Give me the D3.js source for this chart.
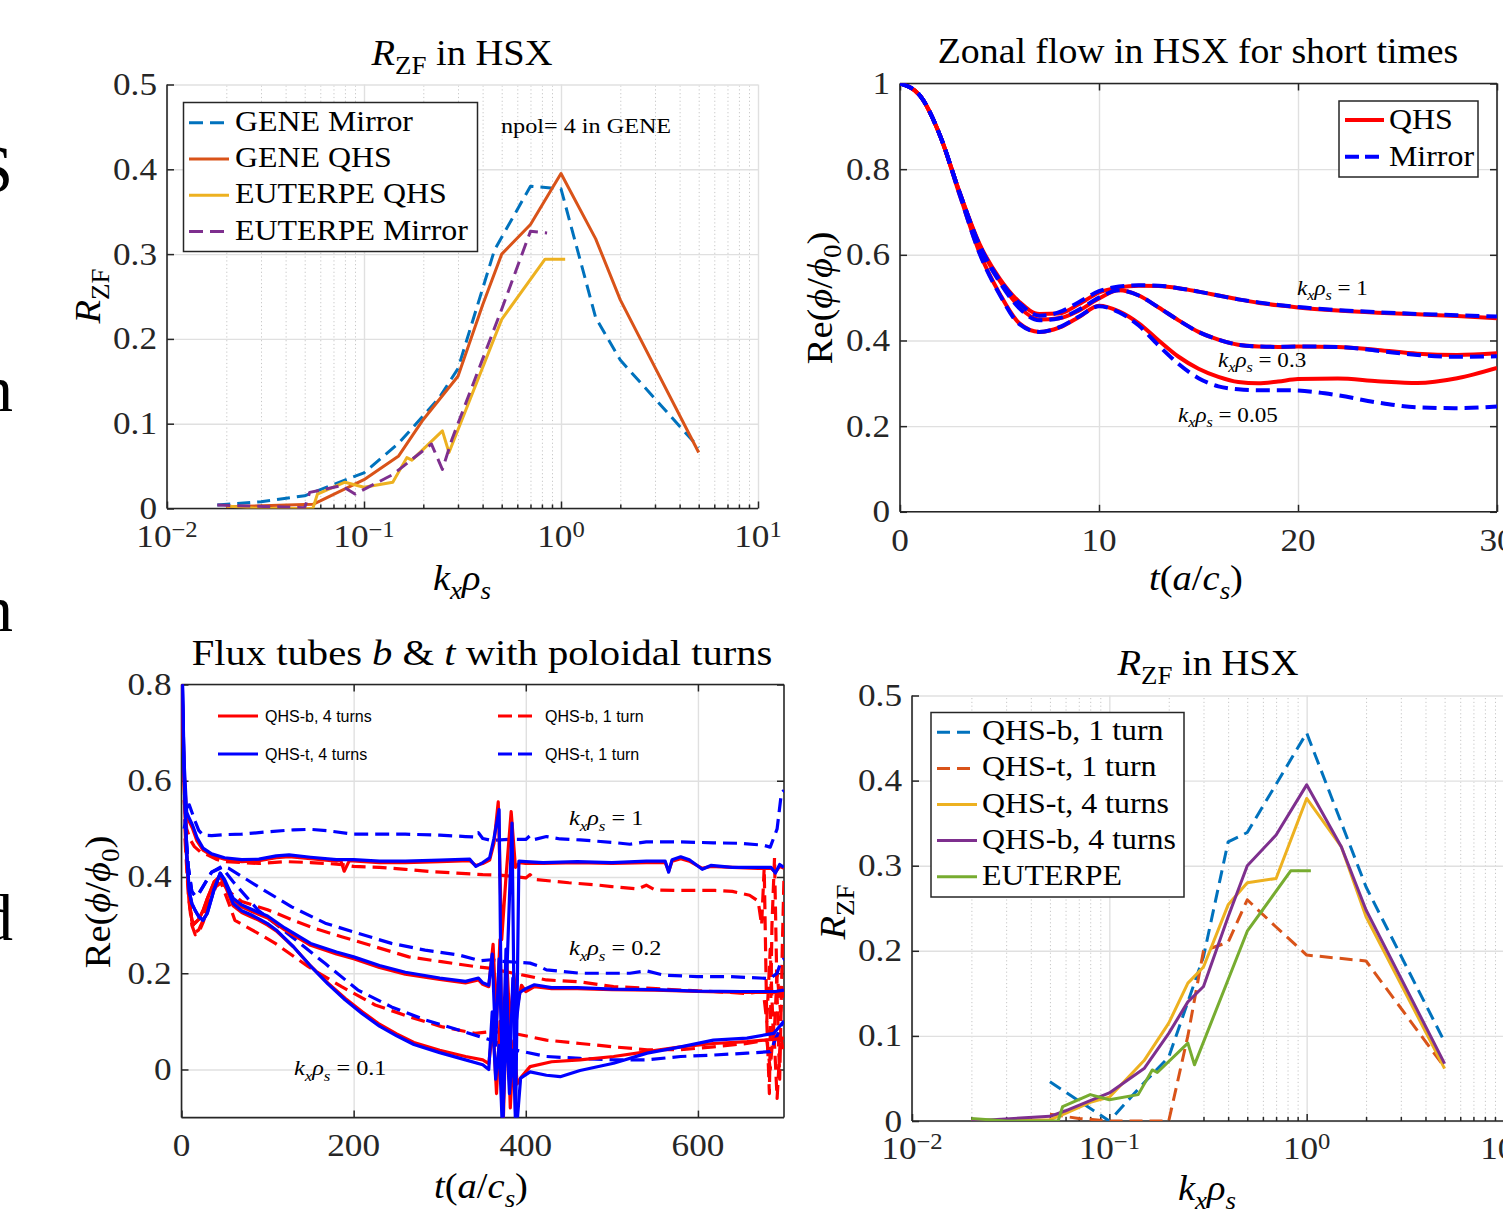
<!DOCTYPE html>
<html><head><meta charset="utf-8">
<script src="https://cdn.jsdelivr.net/npm/d3@7"></script>
<style>body{margin:0;background:#fff}svg{display:block}</style>
</head><body>
<script>
// ================= DATA =================
// Panel 1: R_ZF in HSX (GENE / EUTERPE)
const p1_geneMirror_k = [0.018, 0.03, 0.05, 0.077, 0.1, 0.15, 0.24, 0.3, 0.46, 0.7, 1, 1.5, 2, 5];
const p1_geneMirror_r = [0.004, 0.008, 0.015, 0.032, 0.042, 0.077, 0.13, 0.165, 0.305, 0.38, 0.377, 0.225, 0.175, 0.072];
const p1_geneQhs_k = [0.02, 0.055, 0.06, 0.1, 0.15, 0.2, 0.3, 0.4, 0.5, 0.7, 1, 1.5, 2, 5];
const p1_geneQhs_r = [0.002, 0.005, 0.009, 0.034, 0.062, 0.105, 0.156, 0.24, 0.30, 0.335, 0.395, 0.318, 0.246, 0.066];
const p1_euterpeQhs_k = [0.02, 0.03, 0.055, 0.058, 0.08, 0.1, 0.14, 0.165, 0.175, 0.25, 0.27, 0.5, 0.83, 1.05];
const p1_euterpeQhs_r = [0.003, 0.0, 0.0, 0.017, 0.031, 0.025, 0.031, 0.060, 0.057, 0.0915, 0.066, 0.223, 0.294, 0.294];
const p1_euterpeMirror_k = [0.018, 0.05, 0.053, 0.077, 0.09, 0.14, 0.22, 0.25, 0.28, 0.5, 0.7, 0.85];
const p1_euterpeMirror_r = [0.004, 0.001, 0.019, 0.027, 0.017, 0.040, 0.076, 0.046, 0.082, 0.235, 0.327, 0.325];

// Panel 2: Zonal flow in HSX for short times
const p2_t = [0,1,2,3,4,5,6,7,8,9,10,11,12,13,14,15,16,17,18,19,20,22,24,26,28,30];
const p2_qhs_k1   = [1.0,0.972,0.88,0.745,0.625,0.545,0.49,0.462,0.463,0.485,0.512,0.524,0.528,0.527,0.522,0.514,0.505,0.496,0.488,0.482,0.477,0.47,0.465,0.461,0.457,0.452];
const p2_mir_k1   = [1.0,0.972,0.88,0.745,0.623,0.542,0.487,0.458,0.466,0.49,0.515,0.526,0.529,0.528,0.522,0.514,0.505,0.496,0.489,0.483,0.478,0.471,0.466,0.462,0.459,0.456];
const p2_qhs_k03  = [1.0,0.972,0.88,0.745,0.622,0.54,0.478,0.449,0.452,0.47,0.498,0.517,0.505,0.477,0.447,0.42,0.402,0.39,0.386,0.385,0.386,0.385,0.378,0.369,0.366,0.37];
const p2_mir_k03  = [1.0,0.972,0.88,0.745,0.62,0.537,0.475,0.447,0.452,0.472,0.5,0.517,0.505,0.477,0.447,0.42,0.402,0.39,0.386,0.385,0.386,0.385,0.376,0.366,0.362,0.363];
const p2_qhs_k005 = [1.0,0.972,0.88,0.74,0.605,0.51,0.44,0.42,0.43,0.455,0.481,0.468,0.44,0.40,0.362,0.334,0.315,0.303,0.3,0.304,0.31,0.311,0.305,0.301,0.312,0.336];
const p2_mir_k005 = [1.0,0.972,0.88,0.74,0.603,0.508,0.438,0.42,0.431,0.456,0.48,0.466,0.435,0.388,0.345,0.312,0.293,0.286,0.284,0.284,0.283,0.272,0.255,0.244,0.242,0.246];

// Panel 3: Flux tubes b & t with poloidal turns
const p3_b4_k1_t = [0,3,6,9,13,18,25,35,50,70,90,110,125,150,180,185,189,195,230,260,300,335,342,350,358,363,368,372,377,383,388,393,400,420,460,500,540,562,566,570,580,590,605,615,640,670,685,690,695,700];
const p3_b4_k1_v = [0.85,0.62,0.525,0.515,0.50,0.475,0.456,0.445,0.437,0.432,0.434,0.44,0.442,0.438,0.433,0.435,0.412,0.434,0.43,0.43,0.432,0.434,0.424,0.428,0.435,0.47,0.556,0.27,0.40,0.536,0.42,0.43,0.428,0.428,0.43,0.428,0.43,0.43,0.412,0.433,0.438,0.433,0.418,0.422,0.42,0.418,0.418,0.41,0.422,0.418];
const p3_t4_k1_t = [0,3,6,9,13,18,25,35,50,70,90,110,125,150,180,200,230,260,300,335,342,350,358,363,369,373,378,384,388,392,400,420,460,500,540,562,566,570,580,590,605,615,640,670,685,690,695,700];
const p3_t4_k1_v = [0.9,0.64,0.535,0.522,0.507,0.482,0.46,0.448,0.44,0.436,0.437,0.444,0.446,0.441,0.436,0.436,0.433,0.433,0.435,0.437,0.422,0.43,0.44,0.48,0.54,-0.13,0.2,0.512,-0.13,0.433,0.432,0.43,0.432,0.43,0.433,0.433,0.41,0.436,0.442,0.436,0.416,0.424,0.42,0.42,0.42,0.408,0.426,0.42];
const p3_b1_k1_t = [3,6,10,15,22,30,40,50,70,90,120,150,170,190,200,230,260,290,320,350,370,390,400,405,410,450,480,500,530,540,550,580,620,640,660,670,674,677,680,683,686,689,692,695,698,700];
const p3_b1_k1_v = [0.56,0.5,0.478,0.463,0.452,0.446,0.437,0.432,0.43,0.428,0.432,0.43,0.428,0.425,0.422,0.42,0.416,0.411,0.408,0.405,0.404,0.4,0.398,0.405,0.395,0.388,0.384,0.38,0.375,0.383,0.373,0.372,0.372,0.37,0.362,0.35,0.3,0.42,0.1,-0.05,0.3,0.44,0.15,-0.02,0.25,0.4];
const p3_t1_k1_t = [3,6,9,12,16,20,25,35,50,70,100,130,150,170,200,230,260,300,330,341,345,350,360,380,400,405,410,424,440,463,500,521,540,580,618,650,676,684,692,697,700];
const p3_t1_k1_v = [0.5,0.53,0.55,0.535,0.515,0.497,0.487,0.486,0.488,0.489,0.494,0.498,0.499,0.496,0.489,0.489,0.489,0.487,0.484,0.483,0.492,0.48,0.476,0.478,0.478,0.486,0.478,0.484,0.479,0.477,0.472,0.468,0.473,0.473,0.471,0.47,0.466,0.462,0.5,0.575,0.58];

const p3_b4_k02_t = [0,3,6,9,12,15,20,25,30,38,45,50,60,70,80,90,100,120,150,180,200,230,260,300,330,345,350,357,362,366,370,374,378,382,386,390,395,400,410,430,460,500,550,600,650,690,700];
const p3_b4_k02_v = [0.85,0.6,0.44,0.35,0.31,0.303,0.312,0.33,0.355,0.39,0.402,0.39,0.352,0.338,0.33,0.322,0.315,0.29,0.258,0.24,0.23,0.212,0.198,0.187,0.18,0.186,0.177,0.172,0.26,0.1,0.27,-0.05,0.22,0.08,0.2,0.13,0.175,0.162,0.172,0.168,0.168,0.166,0.165,0.162,0.16,0.16,0.165];
const p3_t4_k02_t = [0,3,6,9,12,16,20,25,30,38,45,50,60,70,80,90,100,120,150,180,200,230,260,300,330,345,350,357,361,365,369,373,377,381,385,389,393,400,410,430,460,500,550,600,650,690,700];
const p3_t4_k02_v = [0.9,0.62,0.45,0.37,0.345,0.33,0.318,0.31,0.325,0.375,0.408,0.395,0.356,0.342,0.334,0.326,0.319,0.294,0.262,0.244,0.234,0.216,0.202,0.19,0.183,0.19,0.18,0.175,0.24,0.05,0.23,0.0,0.25,-0.02,0.19,0.1,0.16,0.168,0.176,0.17,0.17,0.167,0.166,0.163,0.162,0.162,0.165];
const p3_b1_k02_t = [4,8,12,16,20,25,32,40,46,55,70,100,130,155,186,225,264,302,341,360,366,386,400,424,463,502,541,580,618,657,676,680,684,688,692,696,700];
const p3_b1_k02_v = [0.5,0.38,0.31,0.285,0.29,0.31,0.35,0.385,0.392,0.37,0.349,0.332,0.31,0.293,0.276,0.255,0.234,0.224,0.214,0.21,0.207,0.2,0.195,0.186,0.182,0.172,0.169,0.165,0.162,0.158,0.162,0.1,0.25,0.05,0.2,0.12,0.17];
const p3_t1_k02_t = [4,8,12,16,20,25,35,47,55,89,128,167,205,244,283,322,347,360,370,405,415,424,463,521,540,560,599,637,684,692,697,700];
const p3_t1_k02_v = [0.52,0.42,0.37,0.36,0.365,0.38,0.41,0.422,0.418,0.38,0.338,0.304,0.283,0.262,0.248,0.238,0.226,0.228,0.225,0.221,0.215,0.207,0.2,0.2,0.205,0.196,0.193,0.193,0.189,0.2,0.227,0.23];

const p3_b4_k01_t = [0,3,6,9,12,15,20,25,30,38,45,50,60,70,80,90,100,110,130,150,170,190,210,230,250,270,300,330,350,357,362,366,370,374,378,382,386,390,395,405,430,463,502,541,580,618,657,690,700];
const p3_b4_k01_v = [0.85,0.6,0.44,0.35,0.31,0.303,0.312,0.33,0.355,0.39,0.4,0.385,0.34,0.326,0.318,0.31,0.3,0.288,0.255,0.215,0.18,0.148,0.12,0.094,0.074,0.056,0.04,0.027,0.02,0.012,0.09,-0.05,0.1,-0.1,0.15,-0.08,0.06,-0.03,-0.015,0.006,0.016,0.02,0.027,0.037,0.047,0.054,0.058,0.063,0.065];
const p3_t4_k01_t = [0,3,6,9,12,16,20,25,30,38,45,50,60,70,80,90,100,110,130,150,170,190,210,230,250,270,300,330,350,357,361,365,369,373,377,381,385,389,394,405,424,440,463,502,541,580,618,657,688,700];
const p3_t4_k01_v = [0.9,0.62,0.45,0.37,0.345,0.33,0.318,0.31,0.325,0.375,0.408,0.392,0.345,0.33,0.322,0.313,0.303,0.29,0.255,0.215,0.178,0.145,0.116,0.09,0.07,0.052,0.035,0.02,0.01,0.0,0.12,-0.02,0.05,-0.13,0.1,-0.05,0.04,-0.13,-0.018,-0.005,-0.012,-0.015,-0.002,0.013,0.034,0.047,0.061,0.065,0.075,0.1];
const p3_b1_k01_t = [4,8,12,16,20,25,32,40,46,55,62,89,109,147,186,225,264,302,341,360,386,424,463,502,541,580,618,657,680,684,688,692,696,700];
const p3_b1_k01_v = [0.48,0.36,0.3,0.28,0.285,0.305,0.345,0.38,0.388,0.345,0.31,0.283,0.262,0.214,0.172,0.134,0.11,0.089,0.075,0.079,0.075,0.061,0.054,0.047,0.041,0.041,0.047,0.054,0.061,0.0,0.09,-0.06,0.07,0.03];
const p3_t1_k01_t = [4,8,12,16,20,25,35,47,60,89,128,167,205,244,283,322,347,360,386,424,463,502,541,580,618,657,684,698,700];
const p3_t1_k01_v = [0.52,0.42,0.37,0.36,0.365,0.38,0.41,0.42,0.39,0.331,0.276,0.22,0.165,0.13,0.103,0.082,0.068,0.061,0.041,0.027,0.023,0.02,0.02,0.027,0.03,0.034,0.037,0.096,0.1];

// Panel 4: R_ZF in HSX (flux tubes)
const p4_qhsB1_k = [0.05, 0.1, 0.15, 0.2, 0.25, 0.3, 0.4, 0.5, 1, 2, 5];
const p4_qhsB1_r = [0.046, 0.0, 0.045, 0.075, 0.14, 0.193, 0.328, 0.339, 0.456, 0.275, 0.093];
const p4_qhsT1_k = [0.05, 0.07, 0.1, 0.15, 0.2, 0.25, 0.3, 0.4, 0.5, 0.7, 1, 2, 5];
const p4_qhsT1_r = [0.008, 0.003, 0.0, 0.0, 0.0, 0.1, 0.2, 0.21, 0.26, 0.228, 0.195, 0.188, 0.063];
const p4_4turn_k = [0.02, 0.05, 0.06, 0.08, 0.1, 0.15, 0.2, 0.25, 0.3, 0.4, 0.5, 0.7, 1, 1.5, 2, 5];
const p4_qhsT4_r = [0.0, 0.0015, 0.009, 0.022, 0.028, 0.071, 0.115, 0.162, 0.181, 0.254, 0.28, 0.285, 0.379, 0.322, 0.24, 0.0616];
const p4_qhsB4_r = [0.0, 0.0055, 0.012, 0.024, 0.033, 0.0616, 0.103, 0.14, 0.158, 0.24, 0.30, 0.336, 0.395, 0.322, 0.248, 0.0675];
const p4_euterpe_k = p1_euterpeQhs_k;
const p4_euterpe_r = p1_euterpeQhs_r;

// Ticks
const logTicks = [0.01, 0.1, 1, 10];
const logExps = ['−2', '−1', '0', '1'];
const rzfTicks = [0, 0.1, 0.2, 0.3, 0.4, 0.5];
const rzfLabels = ['0', '0.1', '0.2', '0.3', '0.4', '0.5'];
const p2_xTicks = [0, 10, 20, 30];
const p2_yTicks = [0, 0.2, 0.4, 0.6, 0.8, 1];
const p2_yLabels = ['0', '0.2', '0.4', '0.6', '0.8', '1'];
const p3_xTicks = [0, 200, 400, 600];
const p3_yTicks = [0, 0.2, 0.4, 0.6, 0.8];
const p3_yLabels = ['0', '0.2', '0.4', '0.6', '0.8'];
const logMinor = [];
[0.01, 0.1, 1].forEach(d => { for (let m = 2; m <= 9; m++) logMinor.push(m * d); });

// ================= DRAWING =================
const SERIF = "'Liberation Serif','Times New Roman',serif";
const SANS = "'Liberation Sans',Arial,sans-serif";
const SX = 1.1;
const AX = '#262626', GRID = '#e0e0e0';
const C = {blue:'#0072BD', orange:'#D95319', yellow:'#EDB120', purple:'#7E2F8E', green:'#77AC30', red:'#FF0000', pblue:'#0000FF'};

const svg = d3.select('body').append('svg').attr('width', 1503).attr('height', 1210);
svg.append('rect').attr('width', 1503).attr('height', 1210).attr('fill', '#fff');

function mtext(parent, x, y, parts, o = {}) {
  const size = o.size || 32, sx = o.sx || SX;
  const t = parent.append('text')
    .attr('transform', `translate(${x},${y})${o.rotate ? ` rotate(${o.rotate})` : ''} scale(${sx},1)`)
    .attr('text-anchor', o.anchor || 'start')
    .style('font-family', o.family || SERIF).style('font-size', size + 'px')
    .style('white-space', 'pre').attr('fill', o.fill || '#000');
  let cur = 0;
  parts.forEach(p => {
    if (typeof p === 'string') p = {t: p};
    const sh = p.sub ? size * 0.25 : p.sup ? -size * 0.3 : 0;
    t.append('tspan').attr('dy', sh - cur)
      .style('font-size', ((p.sub || p.sup) ? size * 0.7 : size) + 'px')
      .style('font-style', p.it ? 'italic' : 'normal').text(p.t);
    cur = sh;
  });
  return t;
}
const KR = [{t:'k', it:1}, {t:'x', it:1, sub:1}, {t:'ρ', it:1}, {t:'s', it:1, sub:1}];
const RZF = [{t:'R', it:1}, {t:'ZF', sub:1}];
const REPHI = ['Re(', {t:'ϕ', it:1}, '/', {t:'ϕ', it:1}, {t:'0', sub:1}, ')'];
const TAC = [{t:'t', it:1}, '(', {t:'a', it:1}, '/', {t:'c', it:1}, {t:'s', it:1, sub:1}, ')'];

function styleGrid(s, color, w, dash) {
  s.select('.domain').remove();
  s.selectAll('line').attr('stroke', color).attr('stroke-width', w).attr('stroke-dasharray', dash || null);
}
function styleTicks(s) {
  s.select('.domain').remove();
  s.selectAll('line').attr('stroke', AX).attr('stroke-width', 1.5);
}

function panel(o) {
  const g = svg.append('g');
  const x = (o.log ? d3.scaleLog() : d3.scaleLinear()).domain(o.xd).range([o.L, o.R]);
  const y = d3.scaleLinear().domain(o.yd).range([o.B, o.T]);
  const Wd = o.R - o.L, Hh = o.B - o.T;
  svg.append('defs').append('clipPath').attr('id', 'c' + o.id)
    .append('rect').attr('x', o.L).attr('y', o.T).attr('width', Wd).attr('height', Hh);
  if (o.log) {
    g.append('g').attr('transform', `translate(0,${o.B})`)
      .call(d3.axisBottom(x).tickValues(logMinor).tickSize(-Hh).tickFormat(''))
      .call(s => styleGrid(s, '#c6c6c6', 1, '1.2,2.6'));
  }
  g.append('g').attr('transform', `translate(0,${o.B})`)
    .call(d3.axisBottom(x).tickValues(o.xg).tickSize(-Hh).tickFormat(''))
    .call(s => styleGrid(s, GRID, 1.4));
  g.append('g').attr('transform', `translate(${o.L},0)`)
    .call(d3.axisLeft(y).tickValues(o.yg).tickSize(-Wd).tickFormat(''))
    .call(s => styleGrid(s, GRID, 1.4));
  g.append('g').attr('transform', `translate(${o.L},0)`)
    .call(d3.axisLeft(y).tickValues(o.yt).tickSize(-7).tickFormat('')).call(styleTicks);
  g.append('g').attr('transform', `translate(0,${o.B})`)
    .call(d3.axisBottom(x).tickValues(o.xt).tickSize(-7).tickFormat('')).call(styleTicks);
  if (o.log) {
    g.append('g').attr('transform', `translate(0,${o.B})`)
      .call(d3.axisBottom(x).tickValues(logMinor).tickSize(-4).tickFormat('')).call(styleTicks);
  }
  if (o.box) {
    g.append('g').attr('transform', `translate(${o.R},0)`)
      .call(d3.axisRight(y).tickValues(o.yt).tickSize(-7).tickFormat('')).call(styleTicks);
    g.append('g').attr('transform', `translate(0,${o.T})`)
      .call(d3.axisTop(x).tickValues(o.xt).tickSize(-7).tickFormat('')).call(styleTicks);
  }
  const ax = g.append('g').attr('stroke', AX).attr('stroke-width', 1.6).attr('fill', 'none');
  ax.append('line').attr('x1', o.L).attr('x2', o.L).attr('y1', o.B).attr('y2', o.T);
  ax.append('line').attr('x1', o.L).attr('x2', o.R).attr('y1', o.B).attr('y2', o.B);
  if (o.box) {
    ax.append('line').attr('x1', o.R).attr('x2', o.R).attr('y1', o.B).attr('y2', o.T);
    ax.append('line').attr('x1', o.L).attr('x2', o.R).attr('y1', o.T).attr('y2', o.T);
  }
  o.yt.forEach((v, i) => mtext(g, o.L - 10, y(v) + 10.5, [o.yl[i]], {size: 32, anchor: 'end', fill: AX}));
  o.xt.forEach((v, i) => {
    const parts = o.log ? ['10', {t: logExps[i], sup: 1}] : [String(v)];
    mtext(g, x(v), o.xlY, parts, {size: 32, anchor: 'middle', fill: AX});
  });
  const dataG = svg.append('g').attr('clip-path', `url(#c${o.id})`);
  return {g, dataG, x, y, o};
}

function line(p, xs, ys, color, width, dash, curve) {
  const data = xs.map((v, i) => [v, ys[i]]);
  p.dataG.append('path').datum(data)
    .attr('d', d3.line().x(d => p.x(d[0])).y(d => p.y(d[1])).curve(curve || d3.curveLinear))
    .attr('fill', 'none').attr('stroke', color).attr('stroke-width', width)
    .attr('stroke-dasharray', dash || null).attr('stroke-linejoin', 'round');
}

function legendEntry(g, x1, x2, y, color, width, dash, label, tx, size, family, sx, by) {
  g.append('line').attr('x1', x1).attr('x2', x2).attr('y1', y).attr('y2', y)
    .attr('stroke', color).attr('stroke-width', width).attr('stroke-dasharray', dash || null);
  mtext(g, tx, y + by, [label], {size, family, sx});
}

// ---------- Panel 1 ----------
const P1 = panel({id: 1, L: 167, R: 758, T: 84.5, B: 508.5, log: true, xd: [0.01, 10], yd: [0, 0.5],
  xt: logTicks, xg: logTicks, yt: rzfTicks, yg: rzfTicks, yl: rzfLabels, xlY: 547, box: false});
line(P1, p1_geneMirror_k, p1_geneMirror_r, C.blue, 3, '13,7');
line(P1, p1_geneQhs_k, p1_geneQhs_r, C.orange, 3);
line(P1, p1_euterpeQhs_k, p1_euterpeQhs_r, C.yellow, 3);
line(P1, p1_euterpeMirror_k, p1_euterpeMirror_r, C.purple, 3, '13,7');
mtext(svg, 462, 65, [...RZF, ' in HSX'], {size: 35, anchor: 'middle'});
mtext(svg, 462, 590, KR, {size: 35, anchor: 'middle'});
mtext(svg, 100, 296, RZF, {size: 35, anchor: 'middle', rotate: -90});
mtext(svg, 501, 133, ['npol= 4 in GENE'], {size: 22});
{
  const lg = svg.append('g');
  lg.append('rect').attr('x', 183.5).attr('y', 102.5).attr('width', 294).attr('height', 149)
    .attr('fill', '#fff').attr('stroke', AX).attr('stroke-width', 1.5);
  const ents = [['GENE Mirror', C.blue, '14,7'], ['GENE QHS', C.orange, null], ['EUTERPE QHS', C.yellow, null], ['EUTERPE Mirror', C.purple, '14,7']];
  ents.forEach((e, i) => legendEntry(lg, 189, 229, 122.7 + i * 36.3, e[1], 3, e[2], e[0], 235, 29, SERIF, SX, 8));
}

// ---------- Panel 2 ----------
const P2 = panel({id: 2, L: 900, R: 1497, T: 83.5, B: 511.8, xd: [0, 30], yd: [0, 1],
  xt: p2_xTicks, xg: p2_xTicks, yt: p2_yTicks, yg: p2_yTicks, yl: p2_yLabels, xlY: 551, box: true});
[p2_qhs_k005, p2_qhs_k03, p2_qhs_k1].forEach(v => line(P2, p2_t, v, C.red, 4, null, d3.curveMonotoneX));
[p2_mir_k005, p2_mir_k03, p2_mir_k1].forEach(v => line(P2, p2_t, v, C.pblue, 4, '14,7', d3.curveMonotoneX));
mtext(svg, 1198, 63, ['Zonal flow in HSX for short times'], {size: 35, anchor: 'middle', sx: 1.08});
mtext(svg, 1196, 590, TAC, {size: 35, anchor: 'middle'});
mtext(svg, 832, 298, REPHI, {size: 35, anchor: 'middle', rotate: -90});
mtext(svg, 1297, 295, [...KR, ' = 1'], {size: 21});
mtext(svg, 1218, 367, [...KR, ' = 0.3'], {size: 21});
mtext(svg, 1178, 422, [...KR, ' = 0.05'], {size: 21});
{
  const lg = svg.append('g');
  lg.append('rect').attr('x', 1339).attr('y', 101).attr('width', 139).attr('height', 76)
    .attr('fill', '#fff').attr('stroke', AX).attr('stroke-width', 1.5);
  legendEntry(lg, 1345, 1384, 120, C.red, 4, null, 'QHS', 1389, 29, SERIF, SX, 9);
  legendEntry(lg, 1345, 1384, 156.7, C.pblue, 4, '14,6', 'Mirror', 1389, 29, SERIF, SX, 9);
}

// ---------- Panel 3 ----------
const P3 = panel({id: 3, L: 181.5, R: 784, T: 684.5, B: 1117.6, xd: [0, 700], yd: [-0.1, 0.8],
  xt: p3_xTicks, xg: p3_xTicks, yt: p3_yTicks, yg: p3_yTicks, yl: p3_yLabels, xlY: 1156, box: true});
const D3DASH = '14,7';
line(P3, p3_b1_k1_t, p3_b1_k1_v, C.red, 3.2, D3DASH);
line(P3, p3_b1_k02_t, p3_b1_k02_v, C.red, 3.2, D3DASH);
line(P3, p3_b1_k01_t, p3_b1_k01_v, C.red, 3.2, D3DASH);
line(P3, p3_t1_k1_t, p3_t1_k1_v, C.pblue, 3.2, D3DASH);
line(P3, p3_t1_k02_t, p3_t1_k02_v, C.pblue, 3.2, D3DASH);
line(P3, p3_t1_k01_t, p3_t1_k01_v, C.pblue, 3.2, D3DASH);
line(P3, p3_b4_k1_t, p3_b4_k1_v, C.red, 3.2);
line(P3, p3_b4_k02_t, p3_b4_k02_v, C.red, 3.2);
line(P3, p3_b4_k01_t, p3_b4_k01_v, C.red, 3.2);
line(P3, p3_t4_k1_t, p3_t4_k1_v, C.pblue, 3.2);
line(P3, p3_t4_k02_t, p3_t4_k02_v, C.pblue, 3.2);
line(P3, p3_t4_k01_t, p3_t4_k01_v, C.pblue, 3.2);
mtext(svg, 482, 665, ['Flux tubes ', {t: 'b', it: 1}, ' & ', {t: 't', it: 1}, ' with poloidal turns'], {size: 35, anchor: 'middle', sx: 1.16});
mtext(svg, 481, 1198, TAC, {size: 35, anchor: 'middle'});
mtext(svg, 110, 902, REPHI, {size: 35, anchor: 'middle', rotate: -90});
mtext(svg, 569, 825, [...KR, ' = 1'], {size: 22});
mtext(svg, 569, 955, [...KR, ' = 0.2'], {size: 22});
mtext(svg, 294, 1075, [...KR, ' = 0.1'], {size: 22});
{
  const lg = svg.append('g');
  legendEntry(lg, 218, 258, 716, C.red, 3.2, null, 'QHS-b, 4 turns', 265, 16, SANS, 1, 6);
  legendEntry(lg, 218, 258, 754, C.pblue, 3.2, null, 'QHS-t, 4 turns', 265, 16, SANS, 1, 6);
  legendEntry(lg, 498, 533, 716, C.red, 3.2, '14,6', 'QHS-b, 1 turn', 545, 16, SANS, 1, 6);
  legendEntry(lg, 498, 533, 754, C.pblue, 3.2, '14,6', 'QHS-t, 1 turn', 545, 16, SANS, 1, 6);
}

// ---------- Panel 4 ----------
const P4 = panel({id: 4, L: 912, R: 1504, T: 695.5, B: 1121, log: true, xd: [0.01, 10], yd: [0, 0.5],
  xt: logTicks, xg: logTicks, yt: rzfTicks, yg: rzfTicks, yl: rzfLabels, xlY: 1159, box: false});
line(P4, p4_qhsB1_k, p4_qhsB1_r, C.blue, 3, '13,7');
line(P4, p4_qhsT1_k, p4_qhsT1_r, C.orange, 3, '13,7');
line(P4, p4_4turn_k, p4_qhsT4_r, C.yellow, 3);
line(P4, p4_4turn_k, p4_qhsB4_r, C.purple, 3);
line(P4, p4_euterpe_k, p4_euterpe_r, C.green, 3);
mtext(svg, 1208, 675, [...RZF, ' in HSX'], {size: 35, anchor: 'middle'});
mtext(svg, 1207, 1200, KR, {size: 35, anchor: 'middle'});
mtext(svg, 845, 912, RZF, {size: 35, anchor: 'middle', rotate: -90});
{
  const lg = svg.append('g');
  lg.append('rect').attr('x', 931).attr('y', 712.5).attr('width', 253).attr('height', 184.5)
    .attr('fill', '#fff').attr('stroke', AX).attr('stroke-width', 1.5);
  const ents = [['QHS-b, 1 turn', C.blue, '13,7'], ['QHS-t, 1 turn', C.orange, '13,7'], ['QHS-t, 4 turns', C.yellow, null], ['QHS-b, 4 turns', C.purple, null], ['EUTERPE', C.green, null]];
  ents.forEach((e, i) => legendEntry(lg, 937, 977, 732.3 + i * 36.1, e[1], 3, e[2], e[0], 982, 29, SERIF, SX, 8));
}

// ---------- cut-off text at left page edge ----------
mtext(svg, 13, 192, ['S'], {size: 68, anchor: 'end', sx: 1});
mtext(svg, 13, 411, ['n'], {size: 66, anchor: 'end', sx: 1});
mtext(svg, 13, 631, ['n'], {size: 66, anchor: 'end', sx: 1});
mtext(svg, 13, 940, ['d'], {size: 66, anchor: 'end', sx: 1});
</script>
</body></html>
